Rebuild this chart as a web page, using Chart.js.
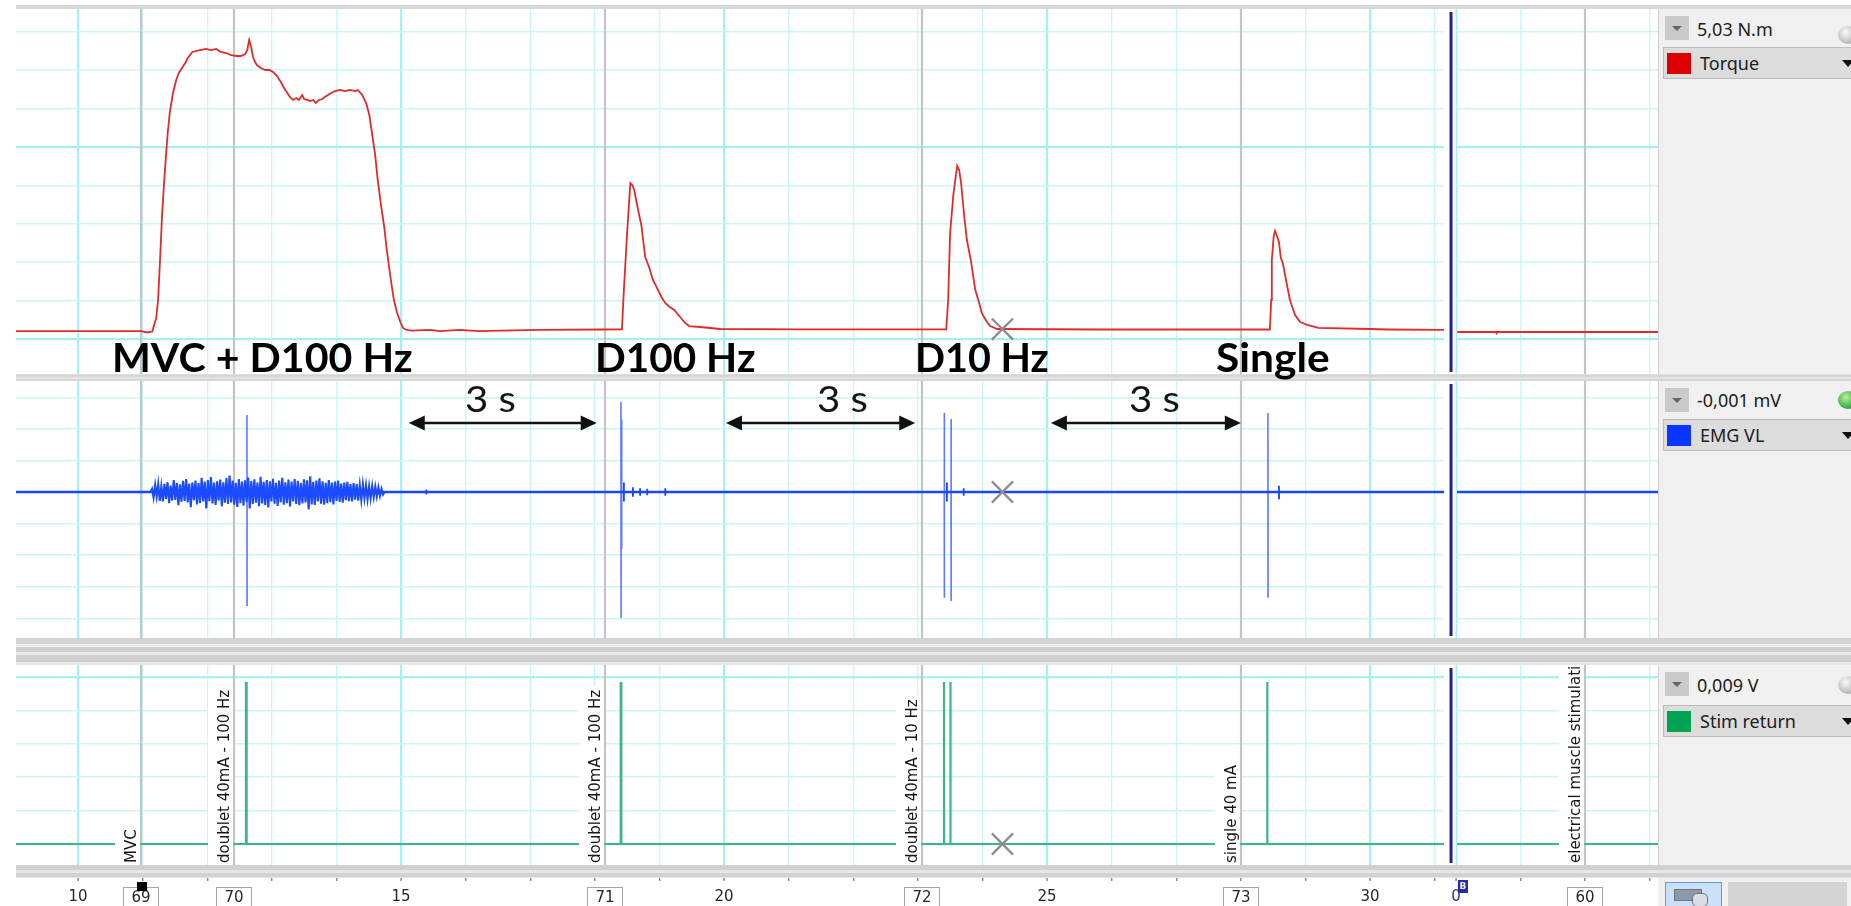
<!DOCTYPE html>
<html lang="en">
<head>
<meta charset="utf-8">
<title>Torque, EMG VL and stimulation recording</title>
<script src="https://cdn.jsdelivr.net/npm/chart.js@4.4.1/dist/chart.umd.min.js"></script>
<style>
  html, body { margin:0; padding:0; background:#fff; }
  body { position:relative; width:1851px; height:906px; overflow:hidden; }
  canvas { position:absolute; display:block; z-index:1; }
  .strip { position:absolute; left:16px; width:1835px; z-index:3; }
  .side { position:absolute; left:1658px; width:193px; background:#f0f0f0; border-left:1px solid #d0d0d0; box-sizing:border-box; z-index:2; }
  .drop { position:absolute; left:1665px; width:24px; height:24px; background:#cacaca; z-index:4; }
  .drop::after { content:''; position:absolute; left:7px; top:10px; border-left:5px solid transparent; border-right:5px solid transparent; border-top:5px solid #666; }
  .readout { position:absolute; left:1697px; height:24px; line-height:24px; font:18px 'Noto Sans', sans-serif; color:#202020; z-index:4; white-space:nowrap; }
  .row { position:absolute; left:1663px; width:188px; height:32px; background:#dcdcdc; border:1px solid #bcbcbc; border-right:none; box-sizing:border-box; z-index:4; }
  .row i { position:absolute; left:3px; top:5px; width:24px; height:21px; }
  .row span { position:absolute; left:36px; top:3px; line-height:24px; font:18px 'Noto Sans', sans-serif; color:#202020; white-space:nowrap; }
  .row::after { content:''; position:absolute; right:-3px; top:12px; border-left:6px solid transparent; border-right:6px solid transparent; border-top:7px solid #111; }
  .knob { position:absolute; left:1838px; width:20px; height:18px; border-radius:50%; z-index:4; }
  .ann { position:absolute; white-space:nowrap; transform-origin:0 0; z-index:6; line-height:normal; display:inline-block; }
  .big { font:700 41px Lato, sans-serif; color:#000; }
  .dur { font:400 37px Lato, sans-serif; color:#151515; }
</style>
</head>
<body>

<!-- top frame line -->
<div class="strip" style="top:5px;height:4px;background:#d8d8d8"></div>

<canvas id="torqueChart" width="1642" height="365" style="left:16px;top:9px"></canvas>
<canvas id="emgChart" width="1642" height="257" style="left:16px;top:381px"></canvas>
<canvas id="stimChart" width="1642" height="241" style="left:16px;top:665px"></canvas>

<!-- channel side panel -->
<div class="side" style="top:9px;height:869px"></div>
<div class="side" style="top:878px;height:28px;border-left:none"></div>

<!-- separators between channels -->
<div class="strip" style="top:374px;height:7px;background:linear-gradient(#e2e2e2 0,#cfcfcf 2px,#e9e9e9 4px,#d0d0d0 6px,#dedede 7px)"></div>
<div class="strip" style="top:638px;height:27px;background:linear-gradient(#d3d3d3 0 6px,#ececec 6px 9px,#cfcfcf 9px 14px,#e9e9e9 14px 17px,#d0d0d0 17px 24px,#e6e6e6 24px 27px)"></div>
<div class="strip" style="top:865px;height:13px;background:linear-gradient(#d0d0d0 0 5px,#e6e6e6 5px 8px,#d2d2d2 8px 12px,#e4e4e4 12px 13px)"></div>

<!-- channel controls -->
<div class="drop" style="top:16px"></div>
<div class="readout" style="top:17px">5,03 N.m</div>
<div class="knob" style="top:26px;background:radial-gradient(circle at 40% 35%,#fafafa,#b5b5b5 70%,#8f8f8f)"></div>
<div class="row" style="top:47px"><i style="background:#dc0000"></i><span>Torque</span></div>

<div class="drop" style="top:388px"></div>
<div class="readout" style="top:388px">-0,001 mV</div>
<div class="knob" style="top:391px;background:radial-gradient(circle at 40% 35%,#b8f0a0,#3aa83a 65%,#1f7d1f)"></div>
<div class="row" style="top:419px"><i style="background:#0a36ff"></i><span>EMG VL</span></div>

<div class="drop" style="top:672px"></div>
<div class="readout" style="top:673px">0,009 V</div>
<div class="knob" style="top:676px;background:radial-gradient(circle at 40% 35%,#fafafa,#b5b5b5 70%,#8f8f8f)"></div>
<div class="row" style="top:705px"><i style="background:#00a452"></i><span>Stim return</span></div>

<!-- bottom toolbar buttons -->
<div style="position:absolute;left:1665px;top:882px;width:57px;height:26px;background:#c9e0f6;border:1px solid #5b9ee0;box-sizing:border-box;z-index:4">
  <div style="position:absolute;left:8px;top:6px;width:26px;height:10px;background:#8d99a8;border:1px solid #6b7684"></div>
  <div style="position:absolute;left:26px;top:10px;width:14px;height:12px;border-radius:5px;background:#d8dde4;border:1px solid #6b7684"></div>
</div>
<div style="position:absolute;left:1728px;top:882px;width:119px;height:26px;background:#d4d4d4;z-index:4"></div>

<div id="annotations"></div>

<script>
// ---------------- recorded values ----------------
// Torque channel, [time s, torque N.m]; null marks the block boundary
const torqueTrace = [
  [9.04, 8.3], [10.98, 8.3], [11.07, 6.8], [11.15, 7.8], [11.21, 21.9], [11.24, 40.6],
  [11.27, 82.3], [11.30, 127.1], [11.33, 160.4], [11.36, 189.6], [11.39, 215.6], [11.42, 235.4],
  [11.47, 256.3], [11.52, 269.8], [11.56, 277.1], [11.61, 282.3], [11.66, 287.5], [11.70, 292.7],
  [11.77, 299.0], [11.83, 300.0], [11.89, 301.0], [11.98, 302.1], [12.06, 301.0], [12.14, 302.1],
  [12.21, 299.0], [12.29, 297.9], [12.37, 295.8], [12.46, 294.8], [12.52, 294.8], [12.59, 296.9],
  [12.62, 301.0], [12.65, 311.5], [12.68, 304.2], [12.71, 293.8], [12.74, 288.5], [12.77, 285.4],
  [12.83, 282.3], [12.90, 280.2], [12.96, 280.2], [13.02, 278.1], [13.08, 274.0], [13.14, 267.7],
  [13.19, 261.5], [13.24, 256.3], [13.28, 252.1], [13.33, 249.0], [13.38, 251.0], [13.42, 249.0],
  [13.47, 254.2], [13.50, 250.0], [13.55, 249.0], [13.59, 247.9], [13.64, 249.0], [13.68, 245.8],
  [13.73, 249.0], [13.78, 250.0], [13.82, 252.1], [13.87, 254.2], [13.92, 256.3], [13.98, 258.3],
  [14.06, 259.4], [14.13, 258.3], [14.21, 259.4], [14.29, 258.3], [14.33, 259.4], [14.40, 254.2],
  [14.46, 245.8], [14.51, 233.3], [14.55, 214.6], [14.60, 191.7], [14.64, 165.6], [14.69, 139.6],
  [14.74, 116.7], [14.78, 92.7], [14.85, 58.3], [14.89, 40.6], [14.94, 27.1], [14.99, 17.7],
  [15.03, 11.5], [15.09, 9.4], [15.16, 8.8], [15.45, 9.4], [15.60, 8.3], [15.91, 9.4],
  [16.20, 8.3], [16.53, 8.8], [17.15, 9.4], [18.08, 9.9],
  [18.42, 10.1], [18.45, 51.0], [18.50, 110.4], [18.55, 162.5], [18.58, 160.4], [18.61, 155.2],
  [18.67, 134.4], [18.72, 118.8], [18.78, 85.4], [18.84, 75.0], [18.90, 61.5], [18.98, 51.0],
  [19.04, 42.7], [19.09, 37.5], [19.16, 33.3], [19.23, 30.2], [19.32, 22.9], [19.40, 16.7],
  [19.46, 13.5], [19.63, 12.5], [19.94, 10.4], [21.18, 10.1],
  [23.44, 10.1], [23.47, 40.6], [23.50, 110.4], [23.55, 150.0], [23.58, 165.6], [23.61, 180.2],
  [23.64, 176.0], [23.67, 162.5], [23.72, 127.1], [23.76, 103.1], [23.82, 82.3], [23.89, 51.0],
  [23.95, 37.5], [23.99, 27.1], [24.06, 18.8], [24.12, 13.5], [24.23, 10.4], [25.82, 9.9],
  [28.45, 9.9], [28.47, 40.6], [28.48, 82.3], [28.51, 107.3], [28.53, 112.5], [28.56, 107.3],
  [28.59, 101.0], [28.62, 84.4], [28.65, 79.2], [28.70, 61.5], [28.76, 40.6], [28.84, 25.0],
  [28.92, 17.7], [29.03, 14.6], [29.20, 11.5], [30.00, 10.4], [30.28, 9.9], [31.15, 9.4],
  [31.25, null],
  [31.35, 7.3], [31.95, 7.3], [31.96, 6.0], [31.97, 7.3], [34.46, 7.3]
];

// EMG VL burst during the maximal voluntary contraction (mV), sampled every 24 ms
const emgBurstStart = 11.146;
const emgBurstStep = 0.024;
const emgBurstMv = [
  0.10, -0.18, 0.22, -0.15, 0.25, -0.28, 0.18, -0.30, 0.26, -0.22,
  0.31, -0.35, 0.20, -0.27, 0.38, -0.25, 0.29, -0.42, 0.24, -0.31,
  0.35, -0.28, 0.41, -0.33, 0.27, -0.48, 0.30, -0.26, 0.36, -0.39,
  0.28, -0.35, 0.45, -0.30, 0.33, -0.52, 0.38, -0.29, 0.47, -0.36,
  0.30, -0.41, 0.34, -0.27, 0.39, -0.45, 0.31, -0.34, 0.44, -0.38,
  0.52, -0.33, 0.36, -0.40, 0.29, -0.47, 0.41, -0.35, 0.33, -0.43,
  0.37, -0.31, 0.46, -0.52, 0.35, -0.38, 0.40, -0.34, 0.30, -0.45,
  0.48, -0.36, 0.32, -0.41, 0.38, -0.49, 0.34, -0.30, 0.42, -0.37,
  0.29, -0.44, 0.36, -0.33, 0.45, -0.40, 0.31, -0.35, 0.39, -0.46,
  0.33, -0.30, 0.41, -0.38, 0.35, -0.42, 0.28, -0.36, 0.40, -0.33,
  0.37, -0.55, 0.50, -0.39, 0.32, -0.41, 0.36, -0.30, 0.43, -0.37,
  0.34, -0.40, 0.29, -0.35, 0.38, -0.32, 0.30, -0.39, 0.33, -0.28,
  0.36, -0.31, 0.27, -0.34, 0.30, -0.26, 0.32, -0.29, 0.25, -0.30,
  0.28, -0.24, 0.26, -0.27, 0.22, -0.25, 0.24, -0.20, 0.21, -0.23,
  0.18, -0.20, 0.19, -0.16, 0.17, -0.14, 0.15, -0.12, 0.10, -0.08
];

// Evoked EMG responses: time (s), positive and negative peaks (mV)
const mWaveTime   = [12.615, 18.405, 18.415, 23.410, 23.515, 28.420];
const mWavePeak   = [2.44, 2.85, 2.30, 2.51, 2.31, 2.50];
const mWaveTrough = [-3.58, -3.96, -1.80, -3.35, -3.45, -3.32];

// Small after-potentials on the EMG baseline: time (s), amplitude (mV)
const emgBlipTime = [15.39, 18.45, 18.59, 18.70, 18.81, 19.09, 23.45, 23.71, 28.59];
const emgBlipMv   = [0.08, 0.30, 0.15, 0.12, 0.10, 0.12, 0.30, 0.12, 0.20];

// Stimulator return pulses: time (s), amplitude (V)
const stimTime = [12.600, 12.610, 18.400, 18.410, 23.405, 23.505, 28.410];
const stimVolt = [4.85, 4.85, 4.85, 4.85, 4.85, 4.85, 4.85];

// Comments
const commentTime   = [10.975, 12.415, 18.158, 23.065, 28.003, 33.33];
const commentNumber = ['69', '70', '71', '72', '73', '60'];
const commentText   = ['MVC', 'doublet 40mA - 100 Hz', 'doublet 40mA - 100 Hz',
                       'doublet 40mA - 10 Hz', 'single 40 mA', 'electrical muscle stimulation'];
const selectedComment = 0;

// Block boundary and start of the following block (s)
const blockBoundary = 31.254;
const blockTwoStart = 31.33;

// Rest periods between contractions (s)
const restSpans = [[15.12, 18.03], [20.03, 22.96], [25.06, 28.00]];
const restLabel = '3 s';
const eventLabels = ['MVC + D100 Hz', 'D100 Hz', 'D10 Hz', 'Single'];

// Waveform cursor
const cursorTime = 24.31;
const cursorTorque = 10.4;

// Axis grid
const blockOneGridSeconds = [10, 11, 12, 13, 14, 15, 16, 17, 18, 19, 20, 21, 22, 23, 24, 25, 26, 27, 28, 29, 30, 31];
const blockTwoGridSeconds = [0, 1, 2, 3];
const torqueGrid = [0, 40, 80, 120, 160, 200, 240, 280, 320];
const torqueMajor = [0, 200];
const emgGrid = [-4, -3, -2, -1, 0, 1, 2, 3];
const emgMajor = [];
const stimGrid = [0, 1, 2, 3, 4, 5];
const stimMajor = [0, 5];

// ---------------- view ----------------
const VIEW_START = 9.0402, VIEW_END = 34.458;
const GRID_MINOR = '#c9f7f8', GRID_MAJOR = '#a4f0f2';
const gridSeconds = blockOneGridSeconds.concat(blockTwoGridSeconds.map(s => blockTwoStart + s));
const near = (a, b) => Math.abs(a - b) < 1e-6;
const isMajorSecond = v => near(v, blockTwoStart) || (v <= 31 && near(v % 5, 0));

function xAxis(withLabels) {
  return {
    type: 'linear', min: VIEW_START, max: VIEW_END,
    afterBuildTicks: s => { s.ticks = gridSeconds.map(v => ({ value: v })); },
    afterFit: s => { s.height = withLabels ? 41 : 0; },
    border: { display: false },
    grid: {
      color: c => isMajorSecond(c.tick.value) ? GRID_MAJOR : GRID_MINOR,
      lineWidth: c => isMajorSecond(c.tick.value) ? 2.2 : 1.4,
      drawTicks: withLabels, tickLength: 16, tickColor: '#8a8a8a', tickWidth: 1.5
    },
    ticks: {
      display: withLabels, autoSkip: false, maxRotation: 0, padding: 7,
      font: { family: 'DejaVu Sans', size: 15 },
      color: c => near(c.tick.value, blockTwoStart) ? '#3a2c86' : '#262626',
      callback: v => {
        if (near(v, blockTwoStart)) return '0';
        if (v <= 31 && near(v % 5, 0)) return String(v);
        return '';
      }
    }
  };
}

function yAxis(min, max, lines, majors) {
  return {
    type: 'linear', min, max,
    afterBuildTicks: s => { s.ticks = lines.map(v => ({ value: v })); },
    afterFit: s => { s.width = 0; },
    border: { display: false },
    grid: {
      color: c => majors.includes(c.tick.value) ? GRID_MAJOR : GRID_MINOR,
      lineWidth: c => majors.includes(c.tick.value) ? 2.2 : 1.4,
      drawTicks: false
    },
    ticks: { display: false }
  };
}

const xPix = (chart, t) => chart.scales.x.getPixelForValue(t);

const commentLines = {
  id: 'commentLines',
  beforeDatasetsDraw(chart) {
    const { ctx, chartArea: a } = chart;
    ctx.save();
    ctx.strokeStyle = '#c4c4c4';
    ctx.lineWidth = 2.2;
    commentTime.forEach(t => {
      const x = Math.round(xPix(chart, t));
      ctx.beginPath(); ctx.moveTo(x, a.top); ctx.lineTo(x, a.bottom); ctx.stroke();
    });
    ctx.restore();
  }
};

const blockDivider = {
  id: 'blockDivider',
  afterDatasetsDraw(chart) {
    const { ctx, chartArea: a } = chart;
    const x = xPix(chart, blockBoundary);
    ctx.save();
    ctx.fillStyle = '#fff';
    ctx.fillRect(x - 7, a.top, 11.5, a.bottom - a.top);
    ctx.fillStyle = '#20208f';
    ctx.fillRect(x - 1.5, a.top + 3, 3, a.bottom - a.top - 5);
    ctx.restore();
  }
};

const restArrows = {
  id: 'restArrows',
  afterDatasetsDraw(chart) {
    const { ctx, chartArea: a } = chart;
    const y = a.top + 42;
    ctx.save();
    ctx.strokeStyle = '#111'; ctx.fillStyle = '#111'; ctx.lineWidth = 2.6;
    restSpans.forEach(([t0, t1]) => {
      const x0 = xPix(chart, t0), x1 = xPix(chart, t1);
      ctx.beginPath(); ctx.moveTo(x0 + 10, y); ctx.lineTo(x1 - 10, y); ctx.stroke();
      ctx.beginPath(); ctx.moveTo(x0, y); ctx.lineTo(x0 + 16, y - 7.5); ctx.lineTo(x0 + 16, y + 7.5); ctx.closePath(); ctx.fill();
      ctx.beginPath(); ctx.moveTo(x1, y); ctx.lineTo(x1 - 16, y - 7.5); ctx.lineTo(x1 - 16, y + 7.5); ctx.closePath(); ctx.fill();
    });
    ctx.restore();
  }
};

const commentLabels = {
  id: 'commentLabels',
  afterDatasetsDraw(chart) {
    const { ctx, chartArea: a } = chart;
    ctx.save();
    ctx.beginPath(); ctx.rect(a.left, a.top, a.right - a.left, a.bottom - a.top); ctx.clip();
    ctx.font = '15px "DejaVu Sans"';
    commentTime.forEach((t, i) => {
      const x = Math.round(xPix(chart, t));
      const w = ctx.measureText(commentText[i]).width;
      ctx.fillStyle = '#fff';
      ctx.fillRect(x - 26, a.bottom - w - 6, 25, w + 6);
      ctx.save();
      ctx.translate(x - 5, a.bottom - 2);
      ctx.rotate(-Math.PI / 2);
      ctx.fillStyle = '#161616';
      ctx.textBaseline = 'alphabetic';
      ctx.fillText(commentText[i], 0, 0);
      ctx.restore();
    });
    ctx.restore();
  },
  afterDraw(chart) {
    const { ctx, chartArea: a } = chart;
    ctx.save();
    ctx.font = '15px "DejaVu Sans"';
    ctx.textAlign = 'center'; ctx.textBaseline = 'middle';
    commentTime.forEach((t, i) => {
      const x = Math.round(xPix(chart, t));
      ctx.fillStyle = '#fff';
      ctx.fillRect(x - 18, a.bottom + 22, 36, 22);
      ctx.strokeStyle = '#a4a4a4'; ctx.lineWidth = 1;
      ctx.strokeRect(x - 17.5, a.bottom + 22.5, 35, 22);
      ctx.fillStyle = '#262626';
      ctx.fillText(commentNumber[i], x, a.bottom + 33);
      if (i === selectedComment) {
        ctx.fillStyle = '#000';
        ctx.fillRect(x - 4, a.bottom + 17, 10, 9);
      }
    });
    // block marker above the new block's zero
    const xb = Math.round(xPix(chart, blockTwoStart));
    ctx.fillStyle = '#2b2b9a';
    ctx.fillRect(xb + 2, a.bottom + 15, 10, 13);
    ctx.fillStyle = '#e8e8ff';
    ctx.font = 'bold 9px "DejaVu Sans"';
    ctx.fillText('B', xb + 7, a.bottom + 21.5);
    ctx.restore();
  }
};

// ---------------- traces ----------------
function pulseTrace(times, heights, lows, gap) {
  const pts = [];
  times.forEach((t, i) => {
    pts.push({ x: t - 0.0008, y: 0 }, { x: t, y: heights[i] });
    if (lows) pts.push({ x: t + 0.0012, y: lows[i] });
    pts.push({ x: t + 0.002, y: 0 });
    if (gap) pts.push({ x: t + 0.003, y: null });
  });
  return pts;
}

const flatWithBreak = level => [
  { x: VIEW_START, y: level }, { x: 31.146, y: level }, { x: blockBoundary, y: null },
  { x: 31.347, y: level }, { x: VIEW_END, y: level }
];

const cursorMark = (y) => ({
  type: 'scatter', data: [{ x: cursorTime, y }], showLine: false,
  pointStyle: 'crossRot', pointRadius: 15, borderColor: '#8c8c8c', borderWidth: 2.2,
  backgroundColor: 'transparent'
});

const common = (withLabels, yCfg) => ({
  responsive: false, animation: false, events: [],
  layout: { padding: 0, autoPadding: false },
  plugins: { legend: { display: false }, tooltip: { enabled: false } },
  elements: { line: { tension: 0 }, point: { radius: 0 } },
  scales: { x: xAxis(withLabels), y: yCfg }
});

new Chart(document.getElementById('torqueChart'), {
  type: 'line',
  data: {
    datasets: [
      cursorMark(cursorTorque),
      { data: torqueTrace.map(([x, y]) => ({ x, y })), borderColor: '#e12a2a', borderWidth: 1.8, spanGaps: false }
    ]
  },
  options: common(false, yAxis(-36.46, 343.75, torqueGrid, torqueMajor)),
  plugins: [commentLines, blockDivider]
});

const burstPts = [{ x: emgBurstStart - emgBurstStep, y: 0 }]
  .concat(emgBurstMv.map((v, i) => ({ x: emgBurstStart + i * emgBurstStep, y: v })))
  .concat([{ x: emgBurstStart + emgBurstMv.length * emgBurstStep, y: 0 }]);

new Chart(document.getElementById('emgChart'), {
  type: 'line',
  data: {
    datasets: [
      cursorMark(0),
      { data: pulseTrace(mWaveTime, mWavePeak, mWaveTrough, true), borderColor: 'rgba(30,70,255,0.72)', borderWidth: 1.6, spanGaps: false },
      { data: pulseTrace(emgBlipTime, emgBlipMv, emgBlipMv.map(v => -v), true), borderColor: '#1a46ff', borderWidth: 1.8, spanGaps: false },
      { data: burstPts, borderColor: '#1a4bff', borderWidth: 2.1 },
      { data: flatWithBreak(0), borderColor: '#1846ff', borderWidth: 2.4, spanGaps: false }
    ]
  },
  options: common(false, yAxis(-4.6203, 3.5127, emgGrid, emgMajor)),
  plugins: [commentLines, restArrows, blockDivider]
});

const stimPts = [{ x: VIEW_START, y: 0 }]
  .concat(pulseTrace(stimTime, stimVolt, null, false))
  .concat([{ x: 31.146, y: 0 }, { x: blockBoundary, y: null }, { x: 31.347, y: 0 }, { x: VIEW_END, y: 0 }]);

new Chart(document.getElementById('stimChart'), {
  type: 'line',
  data: {
    datasets: [
      cursorMark(0),
      { data: stimPts, borderColor: '#3cb784', borderWidth: 2.2, spanGaps: false }
    ]
  },
  options: common(true, yAxis(-0.629, 5.359, stimGrid, stimMajor)),
  plugins: [commentLines, blockDivider, commentLabels]
});

// ---------------- event annotations ----------------
const eventBoxes = [[112, 301], [595, 161], [915, 134], [1216, 114]];   // left, width
const restBoxes = [[465, 51], [817, 51], [1129, 51]];
const EVENT_BASE = 372, REST_BASE = 412;

function placeLabel(text, cls, left, width, base) {
  const el = document.createElement('div');
  el.className = 'ann ' + cls;
  el.textContent = text;
  document.getElementById('annotations').appendChild(el);
  const cs = getComputedStyle(el);
  const c = document.createElement('canvas').getContext('2d');
  c.font = cs.fontWeight + ' ' + cs.fontSize + ' ' + cs.fontFamily;
  const m = c.measureText(text);
  el.style.left = left + 'px';
  el.style.top = (base - m.fontBoundingBoxAscent) + 'px';
  el.style.transform = 'scaleX(' + (width / el.offsetWidth).toFixed(4) + ')';
}

eventLabels.forEach((t, i) => placeLabel(t, 'big', eventBoxes[i][0], eventBoxes[i][1], EVENT_BASE));
restBoxes.forEach(b => placeLabel(restLabel, 'dur', b[0], b[1], REST_BASE));
</script>
</body>
</html>
